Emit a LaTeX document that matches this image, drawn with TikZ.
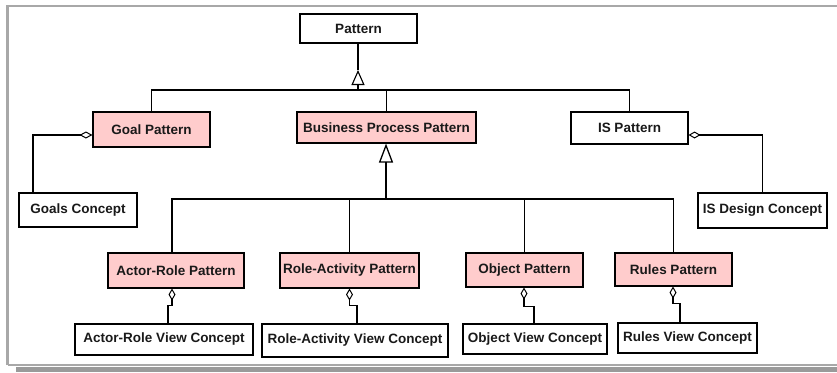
\documentclass[tikz,border=0pt]{standalone}
\usepackage{fontspec}
\setmainfont{Liberation Sans}
\usetikzlibrary{arrows.meta}
\definecolor{patpink}{HTML}{FFCCCC}
\definecolor{framegray}{HTML}{A8A8A8}
\definecolor{shadowgray}{HTML}{9A9A9A}
\tikzset{
  box/.style={draw=black, line width=1.1pt, fill=white, inner sep=0pt,
    font=\fontsize{13.5}{15}\selectfont\bfseries, text=black!90},
  pinkbox/.style={box, fill=patpink},
  link/.style={draw=black, line width=1.1pt},
  genarrow/.style={link, -{Triangle[open, length=15pt, width=13pt, line width=1.1pt]}},
  aggstart/.style={link, {Diamond[open, length=12pt, width=7pt, line width=1pt]}-},
}
\begin{document}
\begin{tikzpicture}[x=1pt, y=-1pt]
  % canvas and frame
  \useasboundingbox (0,0) rectangle (837,372);
  \fill[white] (0,0) rectangle (837,372);
  \fill[shadowgray] (16,366.5) rectangle (837,372);
  \draw[framegray, line width=2.5pt] (7.5,365) -- (7.5,5.8) -- (900,5.8);
  \draw[framegray, line width=2.5pt] (7.5,365) -- (900,365);

  % top level
  \node[box, minimum width=117pt, minimum height=29pt] (pat) at (358.5,28.5) {Pattern};
  \node[pinkbox, minimum width=117pt, minimum height=35pt] (goal) at (151.5,129.5) {Goal Pattern};
  \node[pinkbox, minimum width=179pt, minimum height=31pt] (bpp) at (386.5,127.5) {Business Process Pattern};
  \node[box, minimum width=117pt, minimum height=32pt] (isp) at (629.5,128) {IS Pattern};
  \node[box, minimum width=118pt, minimum height=34pt] (goalsc) at (78,210) {Goals Concept};
  \node[box, minimum width=129pt, minimum height=35pt] (isdc) at (762.5,210.5) {IS Design Concept};

  % business process sub-patterns
  \node[pinkbox, minimum width=136pt, minimum height=35pt] (arp) at (176,270.5) {Actor-Role Pattern};
  \node[pinkbox, minimum width=139pt, minimum height=35pt] (rap) at (349.5,270.5) {Role-Activity Pattern};
  \node[pinkbox, minimum width=117pt, minimum height=34pt] (obp) at (524.5,270) {Object Pattern};
  \node[pinkbox, minimum width=117pt, minimum height=33pt] (rup) at (673.5,269.5) {Rules Pattern};

  % view concepts
  \node[box, minimum width=178pt, minimum height=31pt] (arvc) at (164,339.5) {Actor-Role View Concept};
  \node[box, minimum width=186pt, minimum height=33pt] (ravc) at (355,340.5) {Role-Activity View Concept};
  \node[box, minimum width=144pt, minimum height=30pt] (obvc) at (535,339) {Object View Concept};
  \node[box, minimum width=139pt, minimum height=30pt] (ruvc) at (687.5,338) {Rules View Concept};

  % generalization to Pattern
  \coordinate (bus1) at (358,90);
  \coordinate (tip1) at (358,70);
  \draw[link] (goal.north) |- (isp.north |- bus1) -- (isp.north);
  \draw[link] (bpp.north) -- (bpp.north |- bus1);
  \draw[genarrow] (bus1) -- (tip1);
  \draw[link] (tip1) -- (pat.south -| tip1);

  % generalization to Business Process Pattern
  \coordinate (bus2) at (386,199);
  \draw[link] ([xshift=-4pt]arp.north) |- (rup.north |- bus2) -- (rup.north);
  \draw[link] (rap.north) -- (rap.north |- bus2);
  \draw[link] (obp.north) -- (obp.north |- bus2);
  \draw[genarrow, line width=2pt, -{Triangle[open, length=19pt, width=14pt, line width=1.3pt]}] (bus2) -- (bpp.south -| bus2);

  % aggregations
  \draw[aggstart, {Diamond[open, length=13pt, width=7pt, line width=1pt]}-] ([yshift=-5.5pt]goal.west) -| ([xshift=-45pt]goalsc.north);
  \draw[aggstart, {Diamond[open, length=12pt, width=7pt, line width=1pt]}-] ([yshift=-7pt]isp.east) -| (isdc.north);
  \draw[aggstart] ([xshift=-4pt]arp.south) -- ++(0,17) -| ([xshift=4pt]arvc.north);
  \draw[aggstart] (rap.south) -- ++(0,17) -| ([xshift=2pt]ravc.north);
  \draw[aggstart] ([xshift=-0.5pt]obp.south) -- ++(0,19) -| ([xshift=-1pt]obvc.north);
  \draw[aggstart] ([xshift=-0.5pt]rup.south) -- ++(0,17) -| ([xshift=-7.5pt]ruvc.north);
\end{tikzpicture}
\end{document}
